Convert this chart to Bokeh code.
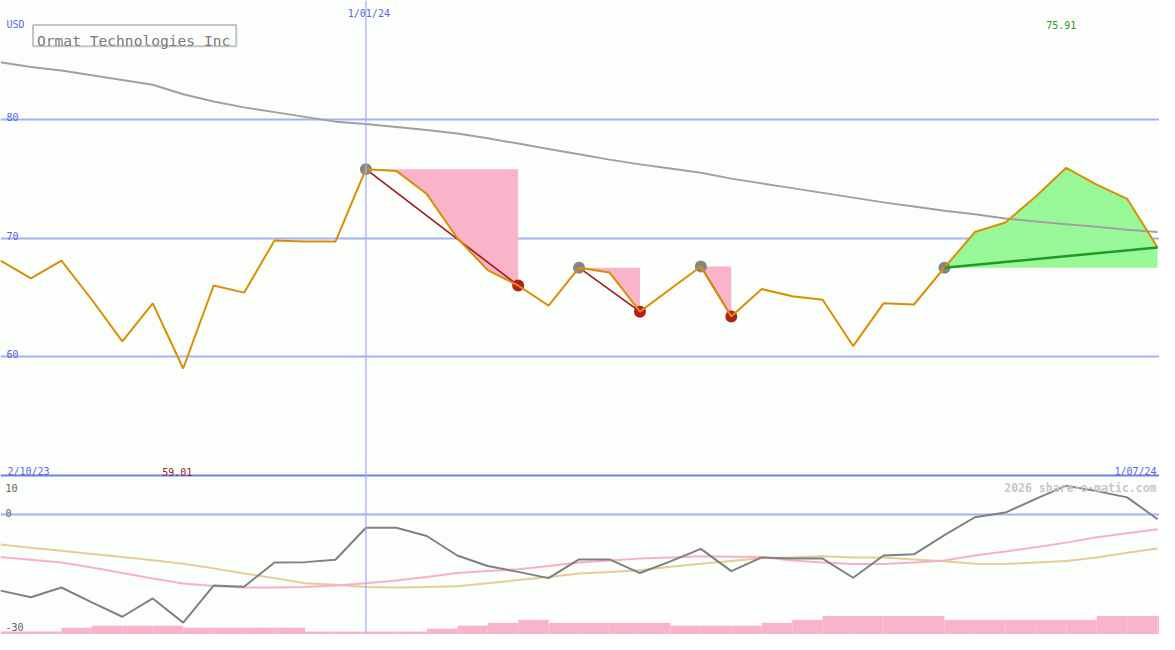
from bokeh.plotting import figure
from bokeh.models import Range1d, Span
from bokeh.core.properties import value
from bokeh.embed import file_html
from bokeh.resources import INLINE

# ---------------- data ----------------
weeks = list(range(39))  # weekly points, 9 Oct 2023 .. 1 Jul 2024
price = [68.1, 66.6, 68.1, 64.8, 61.3, 64.5, 59.01, 66.0, 65.4, 69.8,
         69.7, 69.7, 75.8, 75.65, 73.7, 70.0, 67.3, 66.0, 64.3, 67.5,
         67.1, 63.8, 65.7, 67.6, 63.4, 65.7, 65.1, 64.8, 60.9, 64.5,
         64.4, 67.5, 70.5, 71.3, 73.5, 75.91, 74.5, 73.3, 69.2]
ma_long = [84.8, 84.4, 84.1, 83.7, 83.3, 82.9, 82.1, 81.5, 81.0, 80.6,
           80.2, 79.8, 79.6, 79.35, 79.1, 78.8, 78.4, 77.95, 77.5, 77.05,
           76.6, 76.2, 75.85, 75.5, 75.0, 74.6, 74.2, 73.8, 73.4, 73.0,
           72.65, 72.3, 72.0, 71.65, 71.4, 71.15, 70.95, 70.7, 70.5]
osc_grey = [-19.5, -21.2, -18.7, -22.5, -26.2, -21.5, -27.7, -18.2, -18.5, -12.3,
            -12.2, -11.6, -3.4, -3.4, -5.5, -10.5, -13.2, -14.7, -16.3, -11.5,
            -11.5, -15.0, -12.0, -8.8, -14.5, -11.0, -11.3, -11.3, -16.2, -10.5,
            -10.2, -5.3, -0.7, 0.5, 4.0, 7.4, 6.0, 4.4, -1.2]
osc_pink = [-10.9, -11.6, -12.3, -13.6, -15.0, -16.4, -17.7, -18.3, -18.7, -18.7,
            -18.6, -18.2, -17.6, -16.9, -16.0, -15.0, -14.5, -14.0, -13.2, -12.3,
            -11.8, -11.3, -11.0, -10.7, -10.8, -10.9, -11.8, -12.3, -12.7, -12.7,
            -12.3, -11.8, -10.5, -9.5, -8.4, -7.2, -5.8, -4.8, -3.8]
osc_tan = [-7.7, -8.5, -9.3, -10.1, -10.9, -11.7, -12.6, -13.8, -15.1, -16.3,
           -17.6, -18.0, -18.6, -18.7, -18.6, -18.4, -17.6, -16.8, -16.0, -15.1,
           -14.7, -14.3, -13.4, -12.6, -11.9, -11.2, -11.0, -10.7, -11.0, -11.0,
           -11.5, -12.0, -12.6, -12.7, -12.3, -11.9, -11.0, -9.8, -8.7]
volume = [3, 3, 7, 9, 9, 9, 7, 7, 7, 7,
          3, 3, 3, 3, 6, 9, 12, 15, 12, 12,
          12, 12, 9, 9, 9, 12, 15, 19, 19, 19,
          19, 15, 15, 15, 15, 15, 19, 19, 19]
peaks = [12, 19, 23]
troughs = [17, 21, 24]
gain_start, gain_end = 31, 38
price_ticks = [80, 70, 60]
osc_ticks = [10, 0, -30]
date_start, date_mid, date_end = "2/10/23", "1/01/24", "1/07/24"
date_mid_index = 12
title = "Ormat Technologies Inc"
currency = "USD"
credit = "2026 share-o-matic.com"

# ---------------- layout helpers (reference px -> data) ----------------
W, H = 1159, 634
PXW = 30.87          # reference px per week
PXP = 12.175         # reference px per price unit
PXO = 4.0            # reference px per oscillator unit
PTOP = 90.0
OTOP = 131.75
def fx(px): return px / PXW
def fp(py): return PTOP - py / PXP
def fo(py): return OTOP - py / PXO

BG = "#fcfefc"
BLUE_TXT = "#5565e8"
GRID = "#a4b2f4"
MONO = value("DejaVu Sans Mono")

p = figure(width=W, height=H, output_backend="svg", toolbar_location=None,
           x_range=Range1d(0, fx(1175)), y_range=Range1d(fp(650), PTOP),
           x_axis_type=None, y_axis_type=None, min_border=0,
           background_fill_color=BG, border_fill_color=BG, outline_line_color=None)
p.extra_y_ranges = {"osc": Range1d(fo(650), OTOP), "vol": Range1d(0, 650)}
p.xgrid.visible = False
p.ygrid.visible = False

# grid lines
p.hspan(y=price_ticks, line_color=GRID, line_width=2)
p.hspan(y=[0], y_range_name="osc", line_color=GRID, line_width=2)
p.add_layout(Span(location=date_mid_index, dimension="height",
                  line_color="#9eaef8", line_width=1.2))
p.hspan(y=[fp(487)], line_color="#7080ea", line_width=2)

# drawdown patches
dd_xs, dd_ys = [], []
for pk, tr in zip(peaks, troughs):
    back = list(range(tr, pk - 1, -1))
    dd_xs.append([pk, tr] + back)
    dd_ys.append([price[pk], price[pk]] + [price[i] for i in back])
p.patches(dd_xs, dd_ys, fill_color="#f9b4c9", line_color=None)

# gain patch
gx = list(range(gain_start, gain_end + 1))
p.patch(gx + [gain_end, gain_start],
        [price[i] for i in gx] + [price[gain_start], price[gain_start]],
        fill_color="#98f898", line_color=None)

# long moving average
p.line(weeks, ma_long, line_color="#a0a0a0", line_width=2)

# peak -> trough lines
p.segment(x0=peaks, y0=[price[i] for i in peaks], x1=troughs, y1=[price[i] for i in troughs],
          line_color="#a01818", line_width=1.6)

# dots
p.scatter(peaks + [gain_start], [price[i] for i in peaks + [gain_start]], size=12,
          fill_color="#858585", line_color=None)
p.scatter(troughs, [price[i] for i in troughs], size=12, fill_color="#b22020", line_color=None)

# price
p.line(weeks, price, line_color="#d98e04", line_width=2)

# gain trend line
p.line([gain_start, gain_end], [price[gain_start], price[gain_end]],
       line_color="#229922", line_width=2.5)

# lower panel
p.quad(left=weeks, right=[w + 1 for w in weeks], bottom=0, top=volume,
       y_range_name="vol", fill_color="#f9b4c9", line_color=None)
p.line(weeks, osc_tan, y_range_name="osc", line_color="#e2cc98", line_width=2)
p.line(weeks, osc_pink, y_range_name="osc", line_color="#f8b0c8", line_width=2)
p.line(weeks, osc_grey, y_range_name="osc", line_color="#808080", line_width=2)

# title box
p.quad(left=fx(33), right=fx(239), top=fp(25), bottom=fp(47),
       fill_color=BG, line_color="#c4c4c4", line_width=2)
p.text(x=[fx(37)], y=[fp(41)], text=[title], text_font=MONO,
       text_font_size=value("14.6px"), text_color="#7a7a7a",
       text_align="left", text_baseline="alphabetic")

def txt(xs, ys, texts, color, align="left", size="10px", style="normal", y_range_name="default"):
    p.text(x=xs, y=ys, text=texts, text_font=MONO, text_font_size=value(size),
           text_color=color, text_align=align, text_baseline="alphabetic",
           text_font_style=style, y_range_name=y_range_name)

# price tick labels
txt([fx(6)] * len(price_ticks), [t + 2.5 / PXP for t in price_ticks],
    [str(t) for t in price_ticks], BLUE_TXT)
txt([fx(6)], [fp(25)], [currency], BLUE_TXT)
# oscillator tick labels (top one sits just under the panel divider)
osc_lab_y = [fo(499.5), fo(525), fo(642)]
txt([fx(5)] * len(osc_ticks), osc_lab_y, [str(t) for t in osc_ticks], "#606060",
    y_range_name="osc")

# date labels
txt([date_mid_index + fx(3)], [fp(13.5)], [date_mid], BLUE_TXT, align="center")
txt([fx(7)], [fp(483)], [date_start], BLUE_TXT)
txt([fx(1172)], [fp(483)], [date_end], BLUE_TXT, align="right")

# max / min labels
imax = max(weeks, key=lambda i: price[i])
imin = min(weeks, key=lambda i: price[i])
txt([imax - fx(5)], [fp(25.5)], [f"{price[imax]:.2f}"], "#229922", align="center")
txt([imin - fx(6)], [fp(483)], [f"{price[imin]:.2f}"], "#a01818", align="center")

# credit
txt([fx(1172)], [fo(500)], [credit], "#c8c8c8", align="right", size="11.5px",
    style="bold", y_range_name="osc")

open("out.html", "w").write(file_html(p, INLINE))
